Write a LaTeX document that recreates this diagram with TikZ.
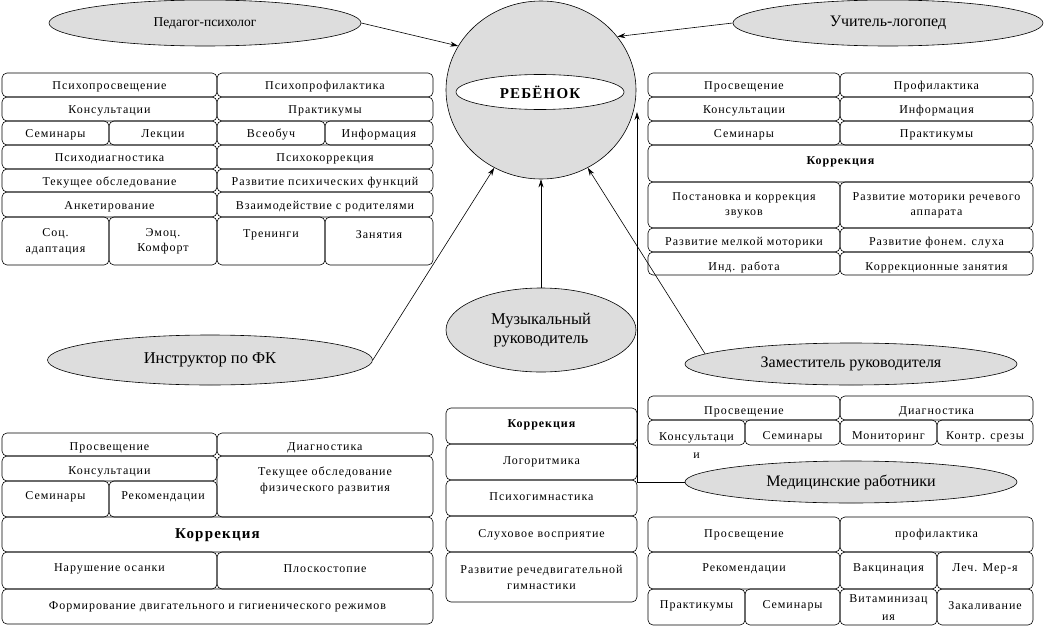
\documentclass[tikz,border=0pt]{standalone}
\usepackage{fontspec}
\setmainfont{Liberation Serif}
\newfontfamily\boxfont[LetterSpace=8]{Liberation Serif}
\usetikzlibrary{shapes.geometric,arrows.meta}
\definecolor{ellgray}{RGB}{221,221,221}
\tikzset{
  cellbox/.style={draw, line width=0.6pt, rounded corners=5pt, inner sep=0pt, outer sep=0pt},
  celltext/.style={inner sep=0pt, align=center, yshift=-1.5pt, font=\boxfont\fontsize{12}{15.5}\selectfont},
  role/.style={ellipse, draw, line width=0.6pt, fill=ellgray, inner sep=0pt, align=center, font=\fontsize{16.5}{18.5}\selectfont},
  arr/.style={line width=0.6pt, -{Stealth[length=8pt,width=5pt]}},
  link/.style={line width=0.6pt}
}
\newcommand\cell[7]{%
  \node[cellbox, minimum width={#4-#2}, minimum height={#5-#3}] (#1) at ({(#2+#4)/2},{(#3+#5)/2}) {};
  \node[celltext] (#1t) at ({(#2+#4)/2},#6) {#7};}
\begin{document}
\begin{tikzpicture}[x=1pt,y=-1pt]
\useasboundingbox (0,0) rectangle (1046,626);
\fill[white] (0,0) rectangle (1046,626);

% central figure
\node[ellipse, draw, line width=0.6pt, fill=ellgray, minimum width=190, minimum height=178, inner sep=0pt] (child) at (541,90) {};
\node[ellipse, draw, line width=0.6pt, fill=white, minimum width=168, minimum height=35, inner sep=0pt,
      font=\boxfont\fontsize{15}{18}\selectfont\bfseries] (reb) at (540,92) {РЕБЁНОК};

% role ellipses
\node[role, minimum width=312, minimum height=46, font=\fontsize{13.5}{15}\selectfont] (ped) at (205,23) {Педагог-психолог};
\node[role, minimum width=310, minimum height=46, font=\fontsize{16}{18}\selectfont] (uch) at (888,23) {Учитель-логопед};
\node[role, minimum width=325, minimum height=50] (instr) at (210,360) {Инструктор по ФК};
\node[role, minimum width=190, minimum height=84] (muz) at (541,330) {Музыкальный\\руководитель};
\node[role, minimum width=332, minimum height=42, font=\fontsize{16}{18}\selectfont] (zam) at (851,364) {Заместитель руководителя};
\node[role, minimum width=332, minimum height=42, font=\fontsize{16}{18}\selectfont] (med) at (851,482) {Медицинские работники};

% top-left block
\cell{tla}{2}{73}{217}{97}{85}{Психопросвещение}
\cell{tlb}{217}{73}{433}{97}{85}{Психопрофилактика}
\cell{tlc}{2}{97}{217}{121}{109}{Консультации}
\cell{tld}{217}{97}{433}{121}{109}{Практикумы}
\cell{tle}{2}{121}{109}{145}{133}{Семинары}
\cell{tlf}{109}{121}{217}{145}{133}{Лекции}
\cell{tlg}{217}{121}{325}{145}{133}{Всеобуч}
\cell{tlh}{325}{121}{433}{145}{133}{Информация}
\cell{tli}{2}{145}{217}{169}{157}{Психодиагностика}
\cell{tlj}{217}{145}{433}{169}{157}{Психокоррекция}
\cell{tlk}{2}{169}{217}{192}{181}{Текущее обследование}
\cell{tll}{217}{169}{433}{192}{181}{Развитие психических функций}
\cell{tlm}{2}{192}{217}{217}{205}{Анкетирование}
\cell{tln}{217}{192}{433}{217}{205}{Взаимодействие с родителями}
\cell{tlo}{2}{217}{109}{265}{240}{Соц.\\адаптация}
\cell{tlp}{109}{217}{217}{265}{240}{Эмоц.\\Комфорт}
\cell{tlq}{217}{217}{325}{265}{233}{Тренинги}
\cell{tlr}{325}{217}{433}{265}{233}{Занятия}

% top-right block
\cell{tra}{648}{73}{840}{97}{85}{Просвещение}
\cell{trb}{840}{73}{1033}{97}{85}{Профилактика}
\cell{trc}{648}{97}{840}{121}{109}{Консультации}
\cell{trd}{840}{97}{1033}{121}{109}{Информация}
\cell{tre}{648}{121}{840}{145}{133}{Семинары}
\cell{trf}{840}{121}{1033}{145}{133}{Практикумы}
\cell{trg}{648}{145}{1033}{182}{160}{\bfseries Коррекция}
\cell{trh}{648}{182}{840}{228}{204}{Постановка и коррекция\\звуков}
\cell{tri}{840}{182}{1033}{228}{204}{Развитие моторики речевого\\аппарата}
\cell{trj}{648}{228}{840}{252}{241}{Развитие мелкой моторики}
\cell{trk}{840}{228}{1033}{252}{241}{Развитие фонем. слуха}
\cell{trl}{648}{252}{840}{275}{266}{Инд. работа}
\cell{trm}{840}{252}{1033}{275}{266}{Коррекционные занятия}

% bottom-left block
\cell{bla}{2}{433}{217}{456}{446}{Просвещение}
\cell{blb}{217}{433}{433}{456}{446}{Диагностика}
\cell{blc}{2}{456}{217}{481}{470}{Консультации}
\cell{bld}{2}{481}{109}{517}{495}{Семинары}
\cell{ble}{109}{481}{217}{517}{495}{Рекомендации}
\cell{blf}{217}{456}{433}{517}{479}{Текущее обследование\\физического развития}
\cell{blg}{2}{517}{433}{552}{534}{\fontsize{15}{18}\selectfont\bfseries Коррекция}
\cell{blh}{2}{552}{217}{589}{567}{Нарушение осанки}
\cell{bli}{217}{552}{433}{589}{567}{Плоскостопие}
\cell{blj}{2}{589}{433}{624}{605}{Формирование двигательного и гигиенического режимов}

% middle column
\cell{mda}{446}{408}{637}{444}{423}{\bfseries Коррекция}
\cell{mdb}{446}{444}{637}{480}{460}{Логоритмика}
\cell{mdc}{446}{480}{637}{516}{495}{Психогимнастика}
\cell{mdd}{446}{516}{637}{552}{533}{Слуховое восприятие}
\cell{mde}{446}{552}{637}{602}{576}{Развитие речедвигательной\\гимнастики}

% deputy block
\cell{baa}{648}{396}{840}{420}{410}{Просвещение}
\cell{bab}{840}{396}{1033}{420}{410}{Диагностика}
\cell{bac}{648}{420}{745}{445}{444}{Консультаци\\[3pt]и}
\cell{bad}{745}{420}{840}{445}{435}{Семинары}
\cell{bae}{840}{420}{937}{445}{435}{Мониторинг}
\cell{baf}{937}{420}{1033}{445}{435}{Контр. срезы}

% medical block
\cell{bba}{648}{517}{840}{552}{533}{Просвещение}
\cell{bbb}{840}{517}{1033}{552}{533}{профилактика}
\cell{bbc}{648}{552}{840}{589}{567}{Рекомендации}
\cell{bbd}{840}{552}{937}{589}{567}{Вакцинация}
\cell{bbe}{937}{552}{1033}{589}{567}{Леч. Мер-я}
\cell{bbf}{648}{589}{745}{625}{604}{Практикумы}
\cell{bbg}{745}{589}{840}{625}{604}{Семинары}
\cell{bbh}{840}{589}{937}{625}{606}{Витаминизац\\[3pt]ия}
\cell{bbi}{937}{589}{1033}{625}{604}{Закаливание}

% connectors
\draw[arr] (ped.east) -- (child.152);
\draw[arr] (uch.west) -- (child.35);
\draw[arr] (instr.east) -- (child.239);
\draw[arr] (muz.north) -- (child.south);
\draw[arr] (zam.176) -- (child.301);
\coordinate (mtip) at (637,112);
\draw[arr] (med.west) -| (mtip);
\end{tikzpicture}
\end{document}
